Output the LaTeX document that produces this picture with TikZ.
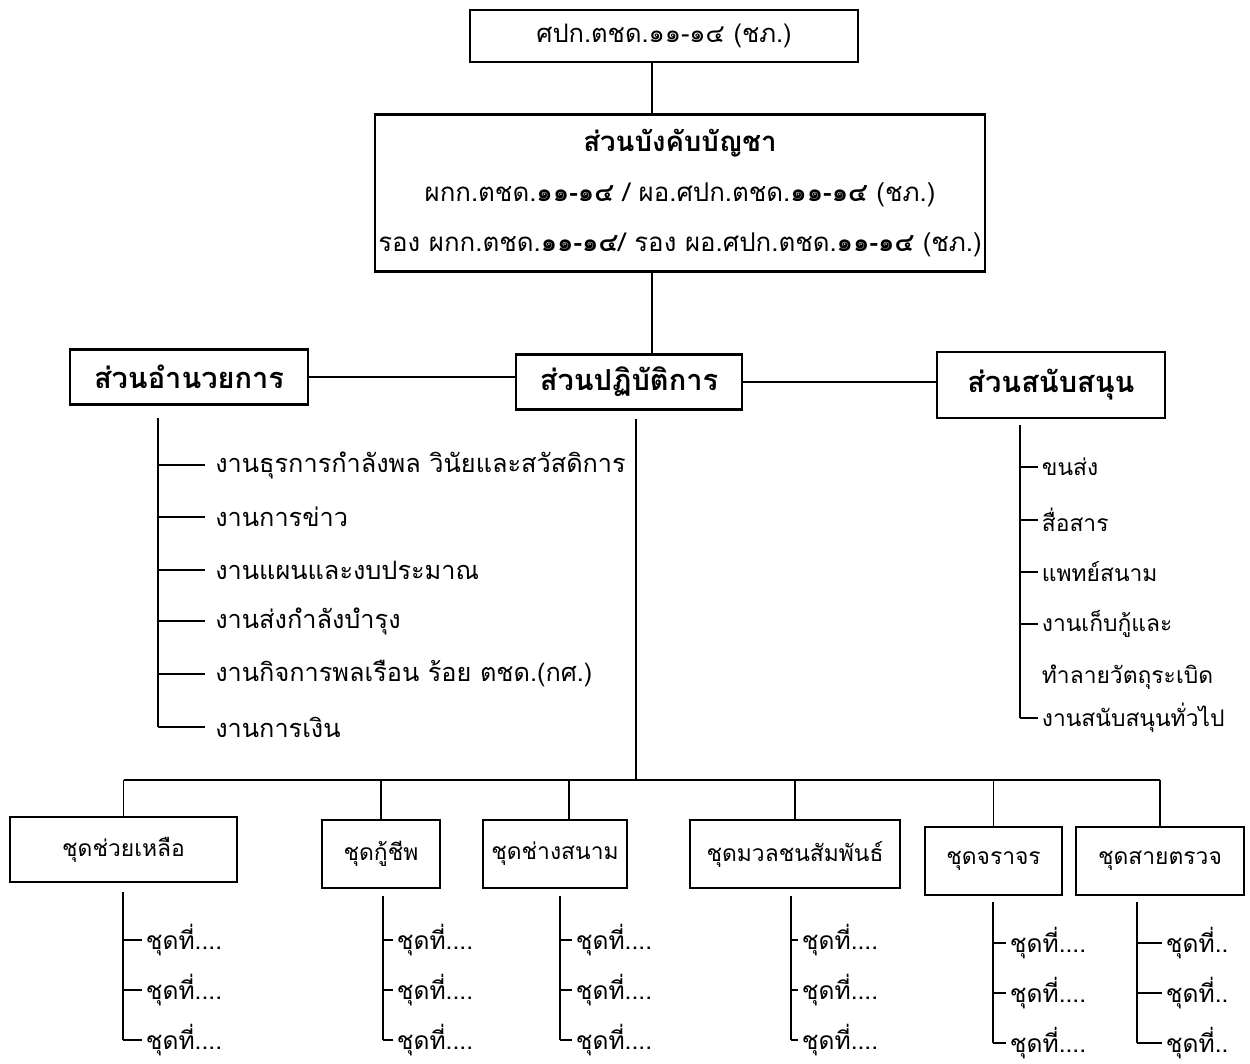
\documentclass[tikz,border=0pt]{standalone}
\usepackage{fontspec}
\setmainfont[Script=Thai]{Loma}
\usetikzlibrary{positioning}

\begin{document}
\begin{tikzpicture}
   [x=0.02cm,y=-0.02cm,every node/.style={draw=none,inner sep = 0pt},
    box/.style={draw,line width=1.3pt,align=center,font=\fontsize{14.5}{17}\selectfont},
    secbox/.style={box,font=\fontsize{16.5}{19}\selectfont\bfseries},
    teambox/.style={box,font=\fontsize{13}{16}\selectfont},
    item/.style={anchor=west,inner xsep=0.2cm,font=\fontsize{14.4}{17}\selectfont},
    sub/.style={anchor=west,inner xsep=2pt,font=\fontsize{14}{17}\selectfont},
    line/.style={line width=1pt}]

\useasboundingbox (0,0) rectangle (1250,1064);

%%%%%%%%%%%%%%%%%%%%%%%%%%%%%%%%%%%%%%%%%%%%%%%%%%%%%%%%%%%%%%%
% Top = ศปก. and command section
%%%%%%%%%%%%%%%%%%%%%%%%%%%%%%%%%%%%%%%%%%%%%%%%%%%%%%%%%%%%%%%

\node[box, minimum width=7.76cm, minimum height=1.04cm] (hq) at (664,36) {ศปก.ตชด.๑๑-๑๔ (ชภ.)};
\node[box, minimum width=12.2cm, minimum height=3.14cm, font=\fontsize{14.7}{28.5}\selectfont] (cmd) at (680,193)
	{\textbf{\fontsize{15.7}{28.5}\selectfont ส่วนบังคับบัญชา}\\
	 ผกก.ตชด.\textbf{๑๑-๑๔} / ผอ.ศปก.ตชด.\textbf{๑๑-๑๔} (ชภ.)\\
	 รอง ผกก.ตชด.\textbf{๑๑-๑๔}/ รอง ผอ.ศปก.ตชด.\textbf{๑๑-๑๔} (ชภ.)};

\coordinate (trunk) at (652,0);
	\draw[line] (hq.south -| trunk) -- (cmd.north -| trunk);

%%%%%%%%%%%%%%%%%%%%%%%%%%%%%%%%%%%%%%%%%%%%%%%%%%%%%%%%%%%%%%%
% Three sections
%%%%%%%%%%%%%%%%%%%%%%%%%%%%%%%%%%%%%%%%%%%%%%%%%%%%%%%%%%%%%%%

\node[secbox, minimum width=4.76cm, minimum height=1.1cm] (dir) at (189,377) {ส่วนอำนวยการ};
\node[secbox, minimum width=4.52cm, minimum height=1.1cm] (ops) at (629,382) {ส่วนปฏิบัติการ};
\node[secbox, minimum width=4.56cm, minimum height=1.32cm] (sup) at (1051,385) {ส่วนสนับสนุน};

	\draw[line] (cmd.south -| trunk) -- (ops.north -| trunk);
	\draw[line] (dir.east) -- (dir.east -| ops.west);
	\draw[line] (ops.east) -- (ops.east -| sup.west);

%%%%%%%%%%%%%%%%%%%%%%%%%%%%%%%%%%%%%%%%%%%%%%%%%%%%%%%%%%%%%%%
% ส่วนอำนวยการ items
%%%%%%%%%%%%%%%%%%%%%%%%%%%%%%%%%%%%%%%%%%%%%%%%%%%%%%%%%%%%%%%

\coordinate (dir_top) at (158,418);
\node[item] (d1) at (205,465) {งานธุรการกำลังพล วินัยและสวัสดิการ};
\node[item] (d2) at (205,517) {งานการข่าว};
\node[item] (d3) at (205,570) {งานแผนและงบประมาณ};
\node[item] (d4) at (205,621) {งานส่งกำลังบำรุง};
\node[item] (d5) at (205,674) {งานกิจการพลเรือน ร้อย ตชด.(กศ.)};
\node[item] (d6) at (205,727) {งานการเงิน};
	\draw[line] (dir_top) -- (dir_top |- d6.west);
	\draw[line] (dir_top |- d1.west) -- (d1.west);
	\draw[line] (dir_top |- d2.west) -- (d2.west);
	\draw[line] (dir_top |- d3.west) -- (d3.west);
	\draw[line] (dir_top |- d4.west) -- (d4.west);
	\draw[line] (dir_top |- d5.west) -- (d5.west);
	\draw[line] (dir_top |- d6.west) -- (d6.west);

%%%%%%%%%%%%%%%%%%%%%%%%%%%%%%%%%%%%%%%%%%%%%%%%%%%%%%%%%%%%%%%
% ส่วนสนับสนุน items
%%%%%%%%%%%%%%%%%%%%%%%%%%%%%%%%%%%%%%%%%%%%%%%%%%%%%%%%%%%%%%%

\coordinate (sup_top) at (1020,425);
\node[sub, font=\fontsize{13}{16}\selectfont] (s1) at (1038,467) {ขนส่ง};
\node[sub, font=\fontsize{13}{16}\selectfont] (s2) at (1038,520) {สื่อสาร};
\node[sub, font=\fontsize{13}{16}\selectfont] (s3) at (1038,572) {แพทย์สนาม};
\node[sub, font=\fontsize{13}{16}\selectfont] (s4) at (1038,624) {งานเก็บกู้และ};
\node[sub, font=\fontsize{13}{16}\selectfont] (s4b) at (1038,677) {ทำลายวัตถุระเบิด};
\node[sub, font=\fontsize{13}{16}\selectfont] (s5) at (1038,718) {งานสนับสนุนทั่วไป};
	\draw[line] (sup_top) -- (sup_top |- s5.west);
	\draw[line] (sup_top |- s1.west) -- (s1.west);
	\draw[line] (sup_top |- s2.west) -- (s2.west);
	\draw[line] (sup_top |- s3.west) -- (s3.west);
	\draw[line] (sup_top |- s4.west) -- (s4.west);
	\draw[line] (sup_top |- s5.west) -- (s5.west);

%%%%%%%%%%%%%%%%%%%%%%%%%%%%%%%%%%%%%%%%%%%%%%%%%%%%%%%%%%%%%%%
% Teams under ส่วนปฏิบัติการ
%%%%%%%%%%%%%%%%%%%%%%%%%%%%%%%%%%%%%%%%%%%%%%%%%%%%%%%%%%%%%%%

\coordinate (bus) at (636,780);
\coordinate[below = 0.16cm of ops] (ops_b);
\coordinate (ops_s) at (ops_b -| bus);
\coordinate (t3_drop) at (569,780);

\node[teambox, minimum width=4.54cm, minimum height=1.3cm] (t1) at (123.5,849.5) {ชุดช่วยเหลือ};
\node[teambox, minimum width=2.36cm, minimum height=1.36cm] (t2) at (381,854) {ชุดกู้ชีพ};
\node[teambox, minimum width=2.88cm, minimum height=1.36cm] (t3) at (555,854) {ชุดช่างสนาม};
\node[teambox, minimum width=4.2cm, minimum height=1.36cm] (t4) at (795,854) {ชุดมวลชนสัมพันธ์};
\node[teambox, minimum width=2.74cm, minimum height=1.36cm] (t5) at (993.5,861) {ชุดจราจร};
\node[teambox, minimum width=3.36cm, minimum height=1.36cm] (t6) at (1160,861) {ชุดสายตรวจ};

	\draw[line] (ops_s) -- (bus);
	\draw[line] (t1.north |- bus) -- (t6.north |- bus);
	\draw[line] (t1.north |- bus) -- (t1.north);
	\draw[line] (t2.north |- bus) -- (t2.north);
	\draw[line] (t3_drop) -- (t3.north -| t3_drop);
	\draw[line] (t4.north |- bus) -- (t4.north);
	\draw[line] (t5.north |- bus) -- (t5.north);
	\draw[line] (t6.north |- bus) -- (t6.north);

%%%%%%%%%%%%%%%%%%%%%%%%%%%%%%%%%%%%%%%%%%%%%%%%%%%%%%%%%%%%%%%
% ชุดที่ lists
%%%%%%%%%%%%%%%%%%%%%%%%%%%%%%%%%%%%%%%%%%%%%%%%%%%%%%%%%%%%%%%

% Team 1
\coordinate (t1_top) at (123,892);
\node[sub] (t1a) at (142,940) {ชุดที่....};
\node[sub] (t1b) at (142,990) {ชุดที่....};
\node[sub] (t1c) at (142,1040) {ชุดที่....};
	\draw[line] (t1_top) -- (t1_top |- t1c.west);
	\draw[line] (t1_top |- t1a.west) -- (t1a.west);
	\draw[line] (t1_top |- t1b.west) -- (t1b.west);
	\draw[line] (t1_top |- t1c.west) -- (t1c.west);

% Team 2
\coordinate (t2_top) at (383,896);
\node[sub] (t2a) at (393,940) {ชุดที่....};
\node[sub] (t2b) at (393,990) {ชุดที่....};
\node[sub] (t2c) at (393,1040) {ชุดที่....};
	\draw[line] (t2_top) -- (t2_top |- t2c.west);
	\draw[line] (t2_top |- t2a.west) -- (t2a.west);
	\draw[line] (t2_top |- t2b.west) -- (t2b.west);
	\draw[line] (t2_top |- t2c.west) -- (t2c.west);

% Team 3
\coordinate (t3_top) at (560,896);
\node[sub] (t3a) at (572,940) {ชุดที่....};
\node[sub] (t3b) at (572,990) {ชุดที่....};
\node[sub] (t3c) at (572,1040) {ชุดที่....};
	\draw[line] (t3_top) -- (t3_top |- t3c.west);
	\draw[line] (t3_top |- t3a.west) -- (t3a.west);
	\draw[line] (t3_top |- t3b.west) -- (t3b.west);
	\draw[line] (t3_top |- t3c.west) -- (t3c.west);

% Team 4
\coordinate (t4_top) at (791,896);
\node[sub] (t4a) at (798,940) {ชุดที่....};
\node[sub] (t4b) at (798,990) {ชุดที่....};
\node[sub] (t4c) at (798,1040) {ชุดที่....};
	\draw[line] (t4_top) -- (t4_top |- t4c.west);
	\draw[line] (t4_top |- t4a.west) -- (t4a.west);
	\draw[line] (t4_top |- t4b.west) -- (t4b.west);
	\draw[line] (t4_top |- t4c.west) -- (t4c.west);

% Team 5
\coordinate (t5_top) at (993,902);
\node[sub] (t5a) at (1006,943) {ชุดที่....};
\node[sub] (t5b) at (1006,993) {ชุดที่....};
\node[sub] (t5c) at (1006,1043) {ชุดที่....};
	\draw[line] (t5_top) -- (t5_top |- t5c.west);
	\draw[line] (t5_top |- t5a.west) -- (t5a.west);
	\draw[line] (t5_top |- t5b.west) -- (t5b.west);
	\draw[line] (t5_top |- t5c.west) -- (t5c.west);

% Team 6
\coordinate (t6_top) at (1137,902);
\node[sub] (t6a) at (1162,943) {ชุดที่..};
\node[sub] (t6b) at (1162,993) {ชุดที่..};
\node[sub] (t6c) at (1162,1043) {ชุดที่..};
	\draw[line] (t6_top) -- (t6_top |- t6c.west);
	\draw[line] (t6_top |- t6a.west) -- (t6a.west);
	\draw[line] (t6_top |- t6b.west) -- (t6b.west);
	\draw[line] (t6_top |- t6c.west) -- (t6c.west);

\end{tikzpicture}
\end{document}
